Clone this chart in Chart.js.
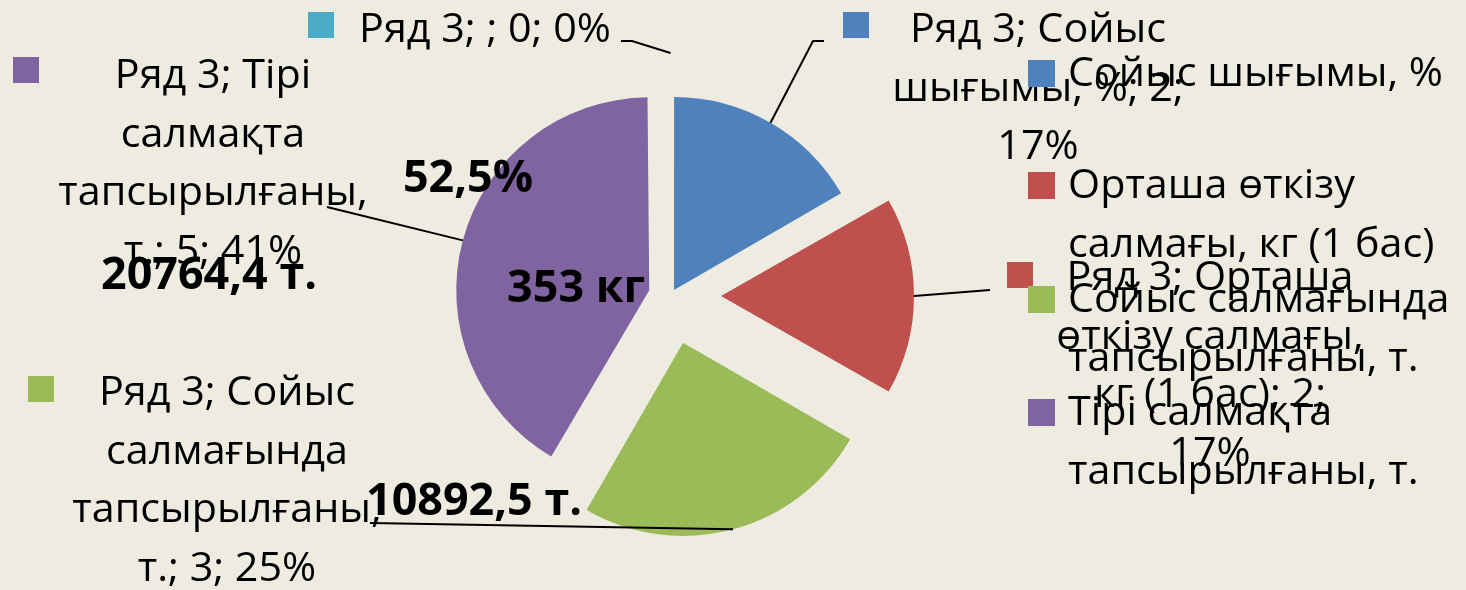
<!DOCTYPE html>
<html lang="kk">
<head>
<meta charset="utf-8">
<title>Ряд 3</title>
<script src="https://cdn.jsdelivr.net/npm/chart.js@4.4.1/dist/chart.umd.min.js"></script>
<style>
  html, body { margin: 0; padding: 0; background: #EEECE1; }
  #wrap { position: relative; width: 1466px; height: 590px; }
</style>
</head>
<body>
<div id="wrap"><canvas id="grafico"></canvas></div>
<script>
// dados
const seriesName = 'Ряд 3';
const categories = ['', 'Сойыс шығымы, %', 'Орташа өткізу салмағы, кг (1 бас)', 'Сойыс салмағында тапсырылғаны, т.', 'Тірі салмақта тапсырылғаны, т.'];
const values = [0, 2, 2, 3, 5];
const percents = [0, 17, 17, 25, 41];
const colors = ['#4BACC6', '#4F81BD', '#C0504D', '#9BBB59', '#8064A2'];

// data label text, wrapped like in the original
const labelLines = [
    ['Ряд 3; ; 0; 0%'],
    ['Ряд 3; Сойыс', 'шығымы, %; 2;', '17%'],
    ['Ряд 3; Орташа', 'өткізу салмағы,', 'кг (1 бас); 2;', '17%'],
    ['Ряд 3; Сойыс', 'салмағында', 'тапсырылғаны,', 'т.; 3; 25%'],
    ['Ряд 3; Тірі', 'салмақта', 'тапсырылғаны,', 'т.; 5; 41%']
];
const legendLines = [
    null,
    ['Сойыс шығымы, %'],
    ['Орташа өткізу', 'салмағы, кг (1 бас)'],
    ['Сойыс салмағында', 'тапсырылғаны, т.'],
    ['Тірі салмақта', 'тапсырылғаны, т.']
];
const notes = ['52,5%', '353 кг', '20764,4 т.', '10892,5 т.'];

// layout
const R = 193;
const explode = [200, 28, 202, 194, 88];
const LINE = 58.5;
const MARK = 26;
const labelPos = [
    {box: [308, 12], cx: 485, y: 42, lead: [[621, 41], [632, 41]]},
    {box: [843, 12], cx: 1038, y: 42, lead: [[824, 41], [813, 41]]},
    {box: [1007, 262], cx: 1210, y: 290, lead: [[990, 290]]},
    {box: [28, 376], cx: 227, y: 405, lead: [[370, 523]]},
    {box: [13, 57], cx: 213, y: 88, lead: [[327, 207]]}
];
const legendX = 1028, legendTextX = 1068;
const legendY = [null, 86, 198, 312, 425];
const notePos = [[468, 192], [576, 302], [209, 289], [474, 515]];

const FONT = '40px "Open Sans", "Noto Sans", sans-serif';
const FONT_BOLD = 'bold 45px "Open Sans", "Noto Sans", sans-serif';

function drawText(ctx, txt, x, y, align, sx) {
    ctx.save();
    ctx.translate(x, y);
    ctx.scale(sx, 1);
    ctx.textAlign = align;
    ctx.fillText(txt, 0, 0);
    ctx.restore();
}

// keep every exploded slice at the same radius (chart.js grows it with offset)
const radiusFix = {
    id: 'radiusFix',
    beforeDatasetsDraw(chart) {
        chart.getDatasetMeta(0).data.forEach(arc => {
            let off = (arc.options.offset || 0) / 4;
            let fix = 1 - Math.sin(Math.min(Math.PI, arc.circumference || 0));
            arc.outerRadius = R - off * fix;
        });
    }
};

const labelsPlugin = {
    id: 'labelsPlugin',
    afterDraw(chart) {
        const ctx = chart.ctx;
        const arcs = chart.getDatasetMeta(0).data;

        ctx.save();
        ctx.font = FONT;
        let sx = 375 / ctx.measureText('Сойыс шығымы, %').width;
        ctx.font = FONT_BOLD;
        let sxBold = 216 / ctx.measureText('10892,5 т.').width;

        // leader lines
        ctx.strokeStyle = '#000';
        ctx.lineWidth = 2;
        arcs.forEach((arc, i) => {
            let mid = (arc.startAngle + arc.endAngle) / 2;
            let d = (arc.options.offset || 0) / 4 + R;
            let ax = arc.x + Math.cos(mid) * d;
            let ay = arc.y + Math.sin(mid) * d;
            let pts = labelPos[i].lead;
            ctx.beginPath();
            ctx.moveTo(pts[0][0], pts[0][1]);
            for (let k = 1; k < pts.length; k++) ctx.lineTo(pts[k][0], pts[k][1]);
            ctx.lineTo(ax, ay);
            ctx.stroke();
        });

        // data labels
        ctx.font = FONT;
        ctx.textBaseline = 'alphabetic';
        labelLines.forEach((lines, i) => {
            let p = labelPos[i];
            ctx.fillStyle = colors[i];
            ctx.fillRect(p.box[0], p.box[1], MARK, MARK);
            ctx.fillStyle = '#000';
            lines.forEach((t, k) => drawText(ctx, t, p.cx, p.y + k * LINE, 'center', sx));
        });

        // legend (the empty category has no entry)
        categories.forEach((c, i) => {
            if (!c) return;
            ctx.fillStyle = colors[i];
            ctx.fillRect(legendX, legendY[i] - MARK, MARK + 1, MARK + 1);
            ctx.fillStyle = '#000';
            legendLines[i].forEach((t, k) => drawText(ctx, t, legendTextX, legendY[i] + k * LINE, 'left', sx));
        });

        // bold notes
        ctx.font = FONT_BOLD;
        notes.forEach((t, i) => drawText(ctx, t, notePos[i][0], notePos[i][1], 'center', sxBold));
        ctx.restore();
    }
};

new Chart(document.getElementById('grafico'), {
    type: 'pie',
    data: {
        labels: categories,
        datasets: [{
            label: seriesName,
            data: values,
            backgroundColor: colors,
            borderWidth: 0,
            offset: explode,
            hoverOffset: 0
        }]
    },
    options: {
        responsive: true,
        maintainAspectRatio: false,
        devicePixelRatio: 1,
        animation: false,
        radius: R,
        layout: {padding: {left: 0, right: 125, top: 2, bottom: 0}},
        plugins: {
            legend: {display: false},
            tooltip: {enabled: false}
        }
    },
    plugins: [radiusFix, labelsPlugin]
});
</script>
</body>
</html>
